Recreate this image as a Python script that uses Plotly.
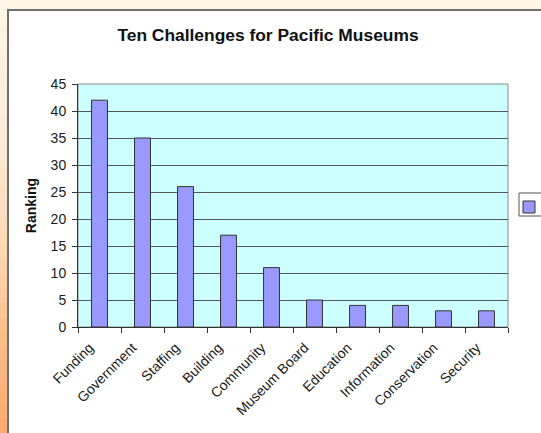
import plotly.graph_objects as go

categories = ["Funding", "Government", "Staffing", "Building", "Community",
              "Museum Board", "Education", "Information", "Conservation", "Security"]
rankings = [42, 35, 26, 17, 11, 5, 4, 4, 3, 3]
title_text = "Ten Challenges for Pacific Museums"
y_title = "Ranking"

W, H = 541, 433
L, R, T, B = 78, 508, 84, 327  # plot area pixel edges

def px2x(px):
    return (px - L) / (R - L)

def py2y(py):
    return (B - py) / (B - T)

FONT = "Arial, Liberation Sans, sans-serif"

fig = go.Figure()
fig.add_trace(go.Bar(
    x=categories, y=rankings, name=" ",
    marker=dict(color="#9999ff", line=dict(color="#333333", width=1)),
    showlegend=True,
))

shapes = []
# left gradient strip (cream -> orange)
stops = [(0, (254, 246, 230)), (150, (253, 234, 212)), (250, (252, 216, 179)),
         (330, (252, 192, 140)), (433, (251, 170, 112))]
n = 30
for i in range(n):
    y0 = H * i / n
    y1 = H * (i + 1) / n
    ym = (y0 + y1) / 2
    for j in range(len(stops) - 1):
        a, ca = stops[j]
        b, cb = stops[j + 1]
        if a <= ym <= b:
            t = (ym - a) / (b - a)
            c = tuple(int(ca[k] + (cb[k] - ca[k]) * t) for k in range(3))
            break
    shapes.append(dict(type="rect", xref="paper", yref="paper", layer="below",
                       x0=px2x(0), x1=px2x(8), y0=py2y(y0), y1=py2y(y1 + 0.5),
                       fillcolor="rgb(%d,%d,%d)" % c, line=dict(width=0)))
# white chart area with border
shapes.append(dict(type="rect", xref="paper", yref="paper", layer="below",
                   x0=px2x(8), x1=px2x(W + 10), y0=py2y(10), y1=py2y(H + 10),
                   fillcolor="white", line=dict(color="#707070", width=2)))
# plot area background
shapes.append(dict(type="rect", xref="x domain", yref="y domain", layer="below",
                   x0=0, x1=1, y0=0, y1=1, fillcolor="#ccffff",
                   line=dict(color="#8a8a8a", width=1)))
# legend frame
shapes.append(dict(type="rect", xref="paper", yref="paper", layer="below",
                   x0=px2x(519), x1=px2x(W + 10), y0=py2y(193), y1=py2y(216),
                   fillcolor="white", line=dict(color="#555555", width=1)))

fig.update_layout(
    width=W, height=H,
    margin=dict(l=L, r=W - R, t=T, b=H - B, pad=0, autoexpand=False),
    paper_bgcolor="#fef6e4",
    plot_bgcolor="#ccffff",
    font=dict(family=FONT, size=14, color="#111111"),
    title=dict(text="<b>%s</b>" % title_text, x=268 / W, xref="container",
               xanchor="center", y=1 - 35 / H, yref="container", yanchor="middle",
               font=dict(family=FONT, size=17.4, color="#111111")),
    bargap=0.63,
    shapes=shapes,
    showlegend=True,
    legend=dict(x=px2x(509), y=py2y(207), xanchor="left", yanchor="middle",
                bgcolor="rgba(0,0,0,0)", borderwidth=0,
                font=dict(size=1), itemwidth=30, tracegroupgap=0),
    xaxis=dict(tickangle=-45, ticks="outside", ticklen=5, tickcolor="#333333",
               tickson="boundaries", showline=True, linecolor="#333333",
               linewidth=1, tickfont=dict(size=14, color="#1a1a1a"),
               ticklabelshift=-10, ticklabelstandoff=6,
               showgrid=False, automargin=False),
    yaxis=dict(range=[0, 45], dtick=5, ticks="outside", ticklen=5,
               tickcolor="#333333", showline=True, linecolor="#333333",
               showgrid=True, gridcolor="#555555", gridwidth=1,
               zeroline=False, tickfont=dict(size=14, color="#1a1a1a"),
               ticklabelstandoff=3, automargin=False,
               title=dict(text="<b>%s</b>" % y_title, standoff=10,
                          font=dict(size=14, color="#111111"))),
)

fig.write_html("out.html", config={"displayModeBar": False},
               post_script="document.body.style.margin='0';")
